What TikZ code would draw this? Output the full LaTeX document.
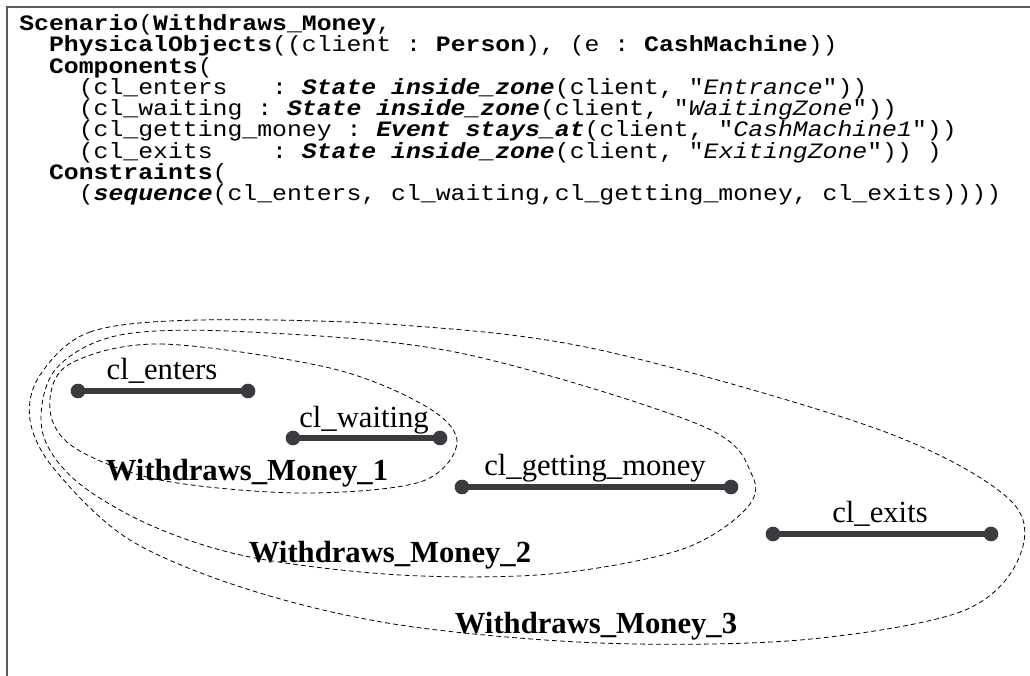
\documentclass[tikz,border=0pt]{standalone}
\usepackage{fontspec}
\setmainfont{Liberation Serif}
\setmonofont[FakeStretch=1.127]{Liberation Mono}
\usetikzlibrary{positioning}
\definecolor{segcol}{RGB}{58,58,63}
\definecolor{framecol}{RGB}{90,90,90}
\newcommand{\kw}[1]{\textbf{#1}}
\newcommand{\op}[1]{\textbf{\textit{#1}}}

\begin{document}
\begin{tikzpicture}[x=0.75pt,y=-0.75pt,
	code line/.style={anchor=base west,inner sep=0pt,font=\ttfamily\fontsize{16.5}{16.5}\selectfont},
	seg/.style={line width=5pt,draw=segcol},
	seg end/.style={circle,fill=segcol,inner sep=0pt,minimum size=11pt},
	seg label/.style={anchor=base,inner sep=0pt,font=\fontsize{23}{23}\selectfont},
	group label/.style={anchor=base,inner sep=0pt,font=\bfseries\fontsize{23}{23}\selectfont},
	zone/.style={draw,line width=0.6pt,dash pattern=on 3.6pt off 2.4pt}]

	\useasboundingbox (0,0) rectangle (1030,675);
	\draw[framecol,line width=1.5pt] (7,700) -- (7,7) -- (1040,7);

	\node[code line] (line 1) at (19,30.5) {\kw{Scenario}(\kw{Withdraws\_Money},};
	\node[code line] (line 2) at (19,51.75) {\phantom{xx}\kw{PhysicalObjects}((client : \kw{Person}), (e : \kw{CashMachine}))};
	\node[code line] (line 3) at (19,73) {\phantom{xx}\kw{Components}(};
	\node[code line] (line 4) at (19,94.25) {\phantom{xxxx}(cl\_enters\ \ \ : \op{State inside\_zone}(client, "\textit{Entrance}"))};
	\node[code line] (line 5) at (19,115.5) {\phantom{xxxx}(cl\_waiting : \op{State inside\_zone}(client, "\textit{WaitingZone}"))};
	\node[code line] (line 6) at (19,136.75) {\phantom{xxxx}(cl\_getting\_money : \op{Event stays\_at}(client, "\textit{CashMachine1}"))};
	\node[code line] (line 7) at (19,158) {\phantom{xxxx}(cl\_exits\ \ \ \ : \op{State inside\_zone}(client, "\textit{ExitingZone}")) )};
	\node[code line] (line 8) at (19,179.25) {\phantom{xx}\kw{Constraints}(};
	\node[code line] (line 9) at (19,200.5) {\phantom{xxxx}(\op{sequence}(cl\_enters, cl\_waiting,cl\_getting\_money, cl\_exits))))};

	\draw[zone] plot[smooth cycle,tension=0.55] coordinates {(40,375) (90,332) (200,320) (400,325)
		(600,350) (880,430) (1010,500) (1018,560) (960,612) (800,640) (600,643) (400,625) (250,590)
		(130,540) (55,470) (30,420)};
	\draw[zone] plot[smooth cycle,tension=0.55] coordinates {(55,370) (120,335) (250,332) (460,353)
		(700,425) (752,475) (745,510) (680,550) (550,574) (400,575) (250,557) (150,525) (75,480) (42,430)};
	\draw[zone] plot[smooth cycle,tension=0.55] coordinates {(68,365) (160,344) (330,368) (427,407)
		(457,443) (420,482) (300,493) (160,480) (75,448) (50,410)};

	\node[seg end] (enters a) at (78,391) {};
	\node[seg end] (enters b) at (248,391) {};
	\node[seg end] (waiting a) at (293,438) {};
	\node[seg end] (waiting b) at (440,438) {};
	\node[seg end] (money a) at (462,487) {};
	\node[seg end] (money b) at (731,487) {};
	\node[seg end] (exits a) at (773,534) {};
	\node[seg end] (exits b) at (991,534) {};

	\draw[seg] (enters a.center) -- (enters b.center);
	\draw[seg] (waiting a.center) -- (waiting b.center);
	\draw[seg] (money a.center) -- (money b.center);
	\draw[seg] (exits a.center) -- (exits b.center);

	\node[seg label] (enters label) at (162,379) {cl\_enters};
	\node[seg label] (waiting label) at (364,427) {cl\_waiting};
	\node[seg label] (money label) at (595,475) {cl\_getting\_money};
	\node[seg label] (exits label) at (880,522) {cl\_exits};

	\node[group label] (group one) at (247,480) {Withdraws\_Money\_1};
	\node[group label] (group two) at (390,562) {Withdraws\_Money\_2};
	\node[group label] (group three) at (596,633) {Withdraws\_Money\_3};
\end{tikzpicture}
\end{document}
